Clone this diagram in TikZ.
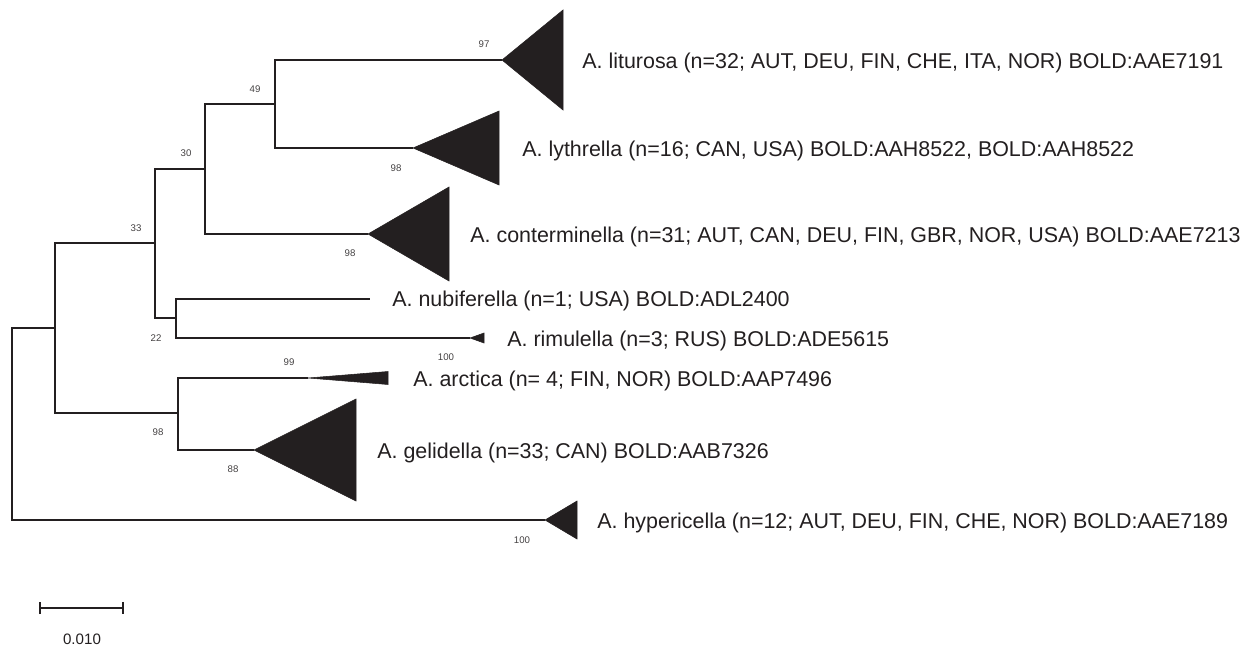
\documentclass[tikz,border=0pt]{standalone}
\usepackage{fontspec}
\setmainfont{Liberation Sans}
\usepackage{xcolor}
\usetikzlibrary{positioning}
\usetikzlibrary{arrows.meta}
\definecolor{treeink}{HTML}{231F20}
\tikzstyle{branch}=[draw=treeink,line width=1.1pt]
\tikzstyle{clade}=[fill=treeink,draw=treeink,line width=0.3pt]
\tikzstyle{taxon}=[anchor=west,inner sep=0pt,text=treeink,font=\fontsize{12.2}{14}\selectfont]
\tikzstyle{boot}=[inner sep=0pt,text=treeink!85,font=\fontsize{5.5}{6}\selectfont]
\tikzstyle{scalelab}=[inner sep=0pt,text=treeink,font=\fontsize{8.6}{10}\selectfont]

\begin{document}
\begin{tikzpicture}[x=0.02cm,y=-0.02cm]
    \useasboundingbox (0,0) rectangle (1253,648);
    % Internal nodes of the tree (pixel grid, y down)
    \foreach \x/\y/\name in {12/424/root, 55/328/nA, 155/243/nB, 205/169/nC,
    275/104/nD, 176/318/nE, 178/413/nF}
        \coordinate (\name) at (\x,\y);

    % Collapsed clades: apex, right edge, half height, label start, label
    \foreach \name/\ax/\ay/\rx/\hh/\lx/\lab in {
    lit/502/60/563/50/582/{A. liturosa (n=32; AUT, DEU, FIN, CHE, ITA, NOR) BOLD:AAE7191},
    lyt/413/148/499/37/522/{A. lythrella (n=16; CAN, USA) BOLD:AAH8522, BOLD:AAH8522},
    con/368/234/449/47/470/{A. conterminella (n=31; AUT, CAN, DEU, FIN, GBR, NOR, USA) BOLD:AAE7213},
    rim/470/338/484/5/507/{A. rimulella (n=3; RUS) BOLD:ADE5615},
    arc/308/378/388/6.5/413/{A. arctica (n= 4; FIN, NOR) BOLD:AAP7496},
    gel/254/450/356/51/377/{A. gelidella (n=33; CAN) BOLD:AAB7326},
    hyp/545/520/577/19/597/{A. hypericella (n=12; AUT, DEU, FIN, CHE, NOR) BOLD:AAE7189}}
    {
        \coordinate (\name) at (\ax,\ay);
        \fill[clade] (\name) -- (\rx,\ay-\hh) -- (\rx,\ay+\hh) -- cycle;
        \node[taxon] (lab-\name) at (\lx,\ay+3) {\lab};
    }
    % single sequence, no triangle
    \coordinate (nub) at (370,299);
    \node[taxon] (lab-nub) at (392,301) {A. nubiferella (n=1; USA) BOLD:ADL2400};

    % Branches
    \foreach \source/\dest in {root/nA, root/hyp, nA/nB, nA/nF, nB/nC, nB/nE,
    nC/nD, nC/con, nD/lit, nD/lyt, nE/nub, nE/rim, nF/arc, nF/gel}
        \draw[branch] (\source) |- (\dest);

    % Bootstrap values
    \foreach \at/\dx/\dy/\val in {lit/-18/-16/97, lyt/-17/20/98, con/-18/19/98,
    rim/-24/19/100, arc/-19/-16/99, gel/-21/19/88, hyp/-23/20/100,
    nD/-20/-15/49, nC/-19/-16/30, nB/-19/-15/33, nE/-20/20/22, nF/-20/19/98}
        \node[boot] at ([shift={(\dx,\dy)}]\at) {\val};

    % Scale bar
    \coordinate (sbL) at (39,608);
    \coordinate (sbR) at (124,608);
    \draw[branch,{Bar[width=7pt]}-{Bar[width=7pt]}] (sbL) -- (sbR);
    \node[scalelab] (sblab) at (82,639) {0.010};
\end{tikzpicture}
\end{document}
